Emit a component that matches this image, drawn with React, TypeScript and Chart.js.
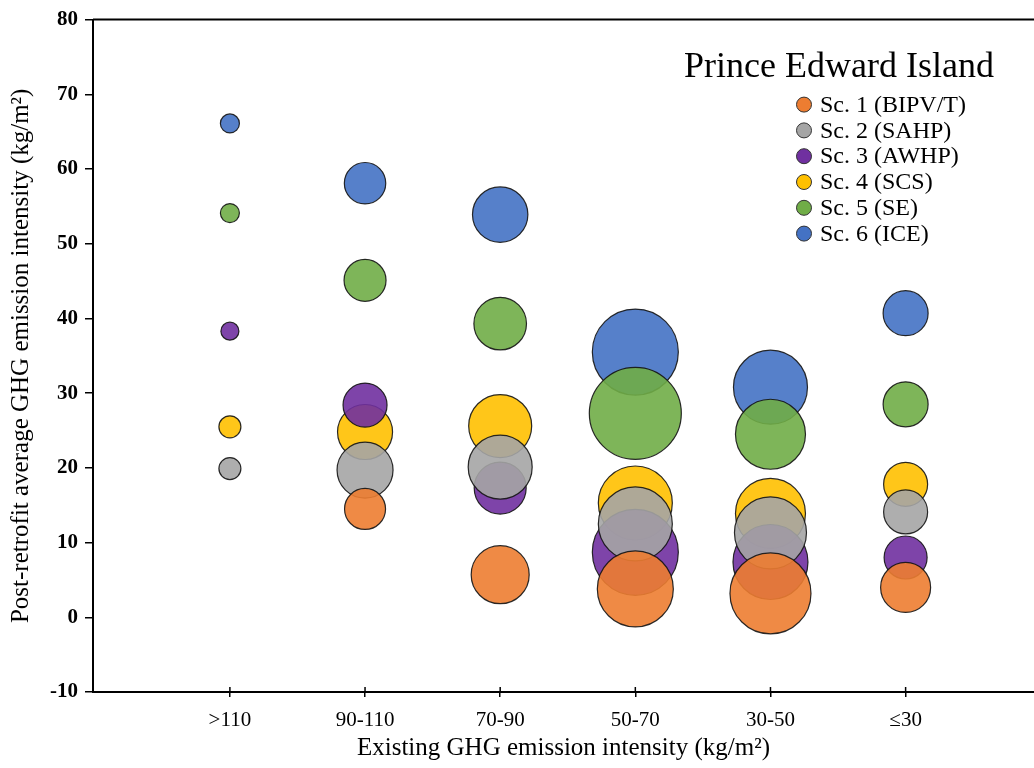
import React, { useEffect, useRef } from "react";
import { Chart, registerables } from "chart.js";

Chart.register(...registerables);

const categories = [">110", "90-110", "70-90", "50-70", "30-50", "≤30"];
const chartTitle = "Prince Edward Island";
const xAxisTitle = "Existing GHG emission intensity (kg/m²)";
const yAxisTitle = "Post-retrofit average GHG emission intensity (kg/m²)";
const yTicks = [-10, 0, 10, 20, 30, 40, 50, 60, 70, 80];

const seriesNames = [
  "Sc. 1 (BIPV/T)",
  "Sc. 2 (SAHP)",
  "Sc. 3 (AWHP)",
  "Sc. 4 (SCS)",
  "Sc. 5 (SE)",
  "Sc. 6 (ICE)",
];
const seriesColors = ["#ED7D31", "#A5A5A5", "#7030A0", "#FFC000", "#70AD47", "#4472C4"];

// values (kg/m2) per category, null = no bubble
const sc1Values = [null, 14.5, 5.7, 3.8, 3.2, 4.0];
const sc2Values = [19.9, 19.7, 20.1, 12.5, 11.3, 14.1];
const sc3Values = [38.3, 28.4, 17.3, 8.7, 7.4, 8.0];
const sc4Values = [25.5, 24.8, 25.6, 15.3, 13.9, 17.8];
const sc5Values = [54.1, 45.1, 39.3, 27.3, 24.5, 28.5];
const sc6Values = [66.1, 58.1, 53.9, 35.5, 30.8, 40.7];

// bubble sizes per category
const sc1Sizes = [null, 20.5, 29, 38, 40.5, 25];
const sc2Sizes = [11, 28, 32, 37, 36, 22];
const sc3Sizes = [9, 22, 26, 43, 37.5, 21.5];
const sc4Sizes = [11, 27.5, 31.5, 37, 35, 22];
const sc5Sizes = [9.5, 21, 26.3, 46, 35, 22.5];
const sc6Sizes = [9.5, 20.7, 27.7, 43, 37, 22.5];

const allValues = [sc1Values, sc2Values, sc3Values, sc4Values, sc5Values, sc6Values];
const allSizes = [sc1Sizes, sc2Sizes, sc3Sizes, sc4Sizes, sc5Sizes, sc6Sizes];

const FONT = '"Liberation Serif", "Times New Roman", serif';

function hexToRgba(hex: string, a: number) {
  const n = parseInt(hex.slice(1), 16);
  return `rgba(${(n >> 16) & 255}, ${(n >> 8) & 255}, ${n & 255}, ${a})`;
}

const decorPlugin = {
  id: "decor",
  afterDraw(chart: any) {
    const ctx = chart.ctx;
    const area = chart.chartArea;
    ctx.save();
    // top border line
    ctx.strokeStyle = "#000";
    ctx.lineWidth = 2;
    ctx.beginPath();
    ctx.moveTo(area.left, area.top);
    ctx.lineTo(area.right, area.top);
    ctx.stroke();
    // inner part of x tick marks
    const xs = chart.scales.x;
    ctx.lineWidth = 1.5;
    xs.ticks.forEach((_: any, i: number) => {
      const px = xs.getPixelForTick(i);
      ctx.beginPath();
      ctx.moveTo(px, area.bottom);
      ctx.lineTo(px, area.bottom - 5);
      ctx.stroke();
    });
    // title
    ctx.fillStyle = "#000";
    ctx.font = `36px ${FONT}`;
    ctx.textAlign = "left";
    ctx.textBaseline = "alphabetic";
    ctx.fillText(chartTitle, area.right - 350, area.top + 57);
    // legend
    ctx.font = `24px ${FONT}`;
    ctx.textBaseline = "middle";
    chart.data.datasets.forEach((ds: any, i: number) => {
      const cy = area.top + 85 + i * 25.8;
      const cx = area.right - 230;
      ctx.beginPath();
      ctx.arc(cx, cy, 7.5, 0, Math.PI * 2);
      ctx.fillStyle = ds.legendColor;
      ctx.fill();
      ctx.strokeStyle = "#333";
      ctx.lineWidth = 1;
      ctx.stroke();
      ctx.fillStyle = "#000";
      ctx.fillText(ds.label, cx + 16, cy + 1);
    });
    ctx.restore();
  },
};

export default function App() {
  const canvasRef = useRef<HTMLCanvasElement | null>(null);

  useEffect(() => {
    if (!canvasRef.current) return;
    const datasets = seriesNames.map((name, s) => {
      const pts: any[] = [];
      allValues[s].forEach((v, i) => {
        if (v !== null) pts.push({ x: i, y: v, r: allSizes[s][i] });
      });
      return {
        label: name,
        data: pts,
        backgroundColor: hexToRgba(seriesColors[s], 0.9),
        borderColor: "rgba(20,20,20,0.9)",
        borderWidth: 1.2,
        legendColor: seriesColors[s],
        clip: false,
      };
    });

    const chart = new Chart(canvasRef.current, {
      type: "bubble",
      data: { datasets: datasets as any },
      plugins: [decorPlugin],
      options: {
        responsive: false,
        animation: false,
        events: [],
        layout: { autoPadding: false, padding: { top: 17, right: 0, left: 0, bottom: 0 } },
        plugins: {
          legend: { display: false },
          tooltip: { enabled: false },
        },
        scales: {
          x: {
            type: "linear",
            min: -1.013,
            max: 5.95,
            afterBuildTicks: (scale: any) => {
              scale.ticks = categories.map((_, i) => ({ value: i }));
            },
            afterFit: (scale: any) => {
              scale.height = 76;
            },
            ticks: {
              callback: (v: any) => categories[v] ?? "",
              color: "#000",
              font: { family: FONT, size: 21 },
              padding: 11,
              maxRotation: 0,
              autoSkip: false,
            },
            grid: {
              display: true,
              drawOnChartArea: false,
              drawTicks: true,
              tickLength: 5,
              color: "#000",
              lineWidth: 1.5,
            },
            border: { display: true, color: "#000", width: 2 },
            title: {
              display: true,
              text: xAxisTitle,
              color: "#000",
              font: { family: FONT, size: 25 },
              padding: { top: 0, bottom: 5 },
            },
          },
          y: {
            type: "linear",
            min: yTicks[0],
            max: yTicks[yTicks.length - 1],
            afterBuildTicks: (scale: any) => {
              scale.ticks = yTicks.map((v) => ({ value: v }));
            },
            afterFit: (scale: any) => {
              scale.width = 93;
            },
            ticks: {
              color: "#000",
              font: { family: FONT, size: 21, weight: "bold" },
              padding: 7,
            },
            grid: {
              display: true,
              drawOnChartArea: false,
              drawTicks: true,
              tickLength: 8,
              color: "#000",
              lineWidth: 1.5,
            },
            border: { display: true, color: "#000", width: 2 },
            title: {
              display: true,
              text: yAxisTitle,
              color: "#000",
              font: { family: FONT, size: 25 },
              padding: { top: 6, bottom: 0 },
            },
          },
        },
      } as any,
    });
    return () => chart.destroy();
  }, []);

  return (
    <div style={{ position: "absolute", left: 0, top: 0, width: 1034, height: 768, background: "#fff" }}>
      <canvas ref={canvasRef} width={1034} height={768} style={{ display: "block" }} />
    </div>
  );
}
